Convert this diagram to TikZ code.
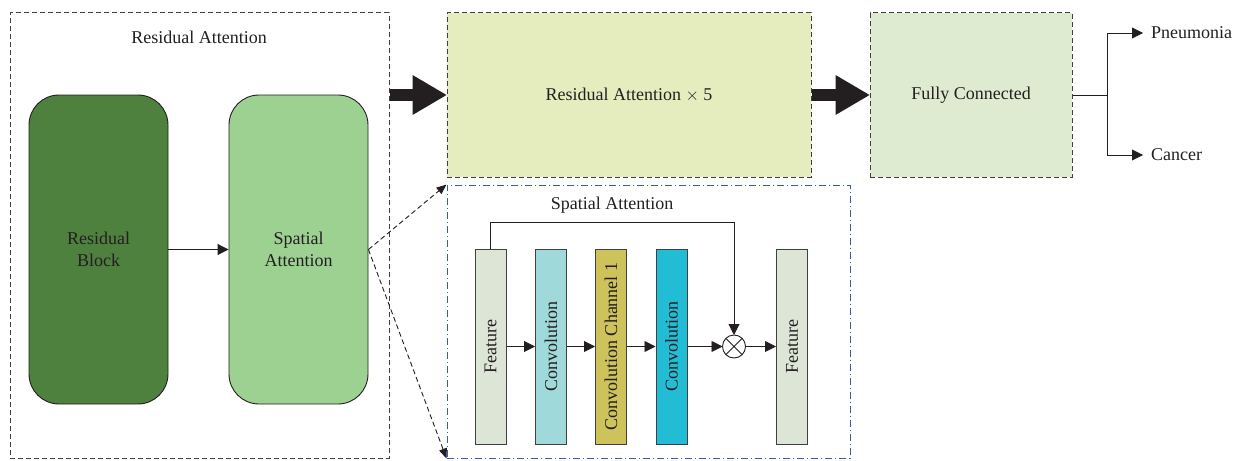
\documentclass[tikz,border=0pt]{standalone}
\usepackage{fontspec}
\setmainfont{Liberation Serif}
\usetikzlibrary{arrows.meta}

\definecolor{txt}{HTML}{231F20}
\definecolor{edge}{HTML}{404040}
\definecolor{resblock}{HTML}{4E803E}
\definecolor{spatial}{HTML}{9DD192}
\definecolor{raxfive}{HTML}{E5EDBE}
\definecolor{fcfill}{HTML}{DEEBD0}
\definecolor{featfill}{HTML}{DCE5D6}
\definecolor{convA}{HTML}{A0D9DA}
\definecolor{chanfill}{HTML}{CEC35A}
\definecolor{convB}{HTML}{22BDD5}
\definecolor{dashblue}{HTML}{3A5DA0}

\tikzset{
  every node/.style={text=txt, font=\fontsize{18}{22}\selectfont},
  dashbox/.style={draw=edge, line width=1pt, dash pattern=on 5pt off 3pt, inner sep=0pt},
  roundbox/.style={draw=txt, line width=0.9pt, rounded corners=30pt,
    minimum width=139pt, minimum height=309pt, align=center, inner sep=0pt},
  bar/.style={draw=edge, line width=1pt, minimum width=31pt, minimum height=195pt, inner sep=0pt},
  bigarrow/.style={draw=txt, line width=12pt,
    -{Triangle[length=34pt, width=40pt, line width=0pt]}},
  thinarrow/.style={draw=txt, line width=0.9pt,
    -{Triangle[length=11pt, width=11pt]}},
  dasharrow/.style={draw=txt, line width=0.9pt, dash pattern=on 5pt off 3pt,
    -{Triangle[length=10pt, width=8pt]}},
}

\begin{document}
\begin{tikzpicture}[x=1pt, y=-1pt]
\useasboundingbox (0,0) rectangle (1246,460);

% outer residual attention block
\node[dashbox, minimum width=379pt, minimum height=445pt] (outer) at (199.5,235.5) {};
\node (outertitle) at (199,37) {Residual Attention};
\node[roundbox, fill=resblock] (rb) at (98.5,249.5) {Residual\\Block};
\node[roundbox, fill=spatial] (sa) at (298.5,249.5) {Spatial\\Attention};
\draw[thinarrow] (rb.east) -- (sa.west);

% stacked blocks and classifier
\node[dashbox, fill=raxfive, minimum width=364pt, minimum height=164pt] (rax) at (629,95) {Residual Attention $\times$ 5};
\node[dashbox, fill=fcfill, minimum width=202pt, minimum height=164pt] (fc) at (971,95) {Fully Connected};
\draw[bigarrow] (outer.east |- rax.west) -- (rax.west);
\draw[bigarrow] (rax.east) -- (fc.west);

\coordinate (branch) at (1107,95);
\node[anchor=west, inner sep=0pt] (pn) at (1151,33) {Pneumonia};
\node[anchor=west, inner sep=0pt] (ca) at (1151,155) {Cancer};
\draw[draw=txt, line width=0.9pt] (fc.east) -- (branch);
\draw[thinarrow, shorten >=8pt] (branch) |- (pn.west);
\draw[thinarrow, shorten >=8pt] (branch) |- (ca.west);

% spatial attention detail
\node[draw=dashblue, line width=1pt, dash pattern=on 7pt off 3pt on 1pt off 3pt,
      minimum width=403pt, minimum height=273pt, inner sep=0pt] (sbox) at (648.5,321.5) {};
\node (stitle) at (612,205) {Spatial Attention};
\draw[dasharrow] (sa.east) -- (sbox.north west);
\draw[dasharrow] (sa.east) -- (sbox.south west);

\node[bar, fill=featfill] (f1) at (490.5,346.5) {\rotatebox{90}{Feature}};
\node[bar, fill=convA] (c1) at (551,346.5) {\rotatebox{90}{Convolution}};
\node[bar, fill=chanfill] (ch) at (611,346.5) {\rotatebox{90}{Convolution Channel 1}};
\node[bar, fill=convB] (c2) at (671.5,346.5) {\rotatebox{90}{Convolution}};
\node[draw=txt, line width=0.9pt, circle, minimum size=23pt, inner sep=0pt, outer sep=0pt] (mul) at (734,346.5) {};
\draw[txt, line width=0.9pt] (mul.north east) -- (mul.south west) (mul.north west) -- (mul.south east);
\node[bar, fill=featfill] (f2) at (792,346.5) {\rotatebox{90}{Feature}};

\draw[thinarrow] (f1.east) -- (c1.west);
\draw[thinarrow] (c1.east) -- (ch.west);
\draw[thinarrow] (ch.east) -- (c2.west);
\draw[thinarrow] (c2.east) -- (mul.west);
\draw[thinarrow] (mul.east) -- (f2.west);
\draw[thinarrow] (f1.north) -- ++(0,-26) -| (mul.north);
\end{tikzpicture}
\end{document}
